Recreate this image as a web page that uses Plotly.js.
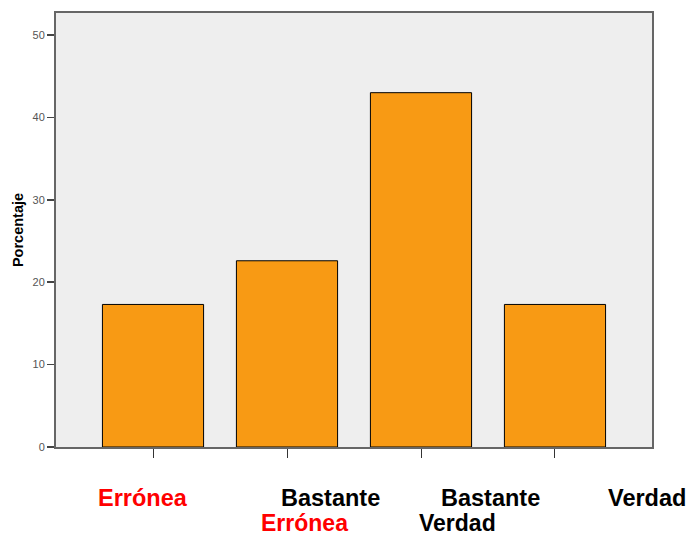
<!DOCTYPE html>
<html>
<head>
<meta charset="utf-8">
<script src="https://cdn.plot.ly/plotly-3.0.1.min.js"></script>
<style>
html,body{margin:0;padding:0;background:#fff;}
#chart{width:693px;height:537px;}
</style>
</head>
<body>
<div id="chart"></div>
<script>
// Data
var categories = ["Errónea", "Bastante Errónea", "Bastante Verdad", "Verdad"];
var percentages = [17.3, 22.6, 43.0, 17.3];
var yTicks = [0, 10, 20, 30, 40, 50];
var yAxisTitle = "Porcentaje";
// Label lines below the axis (first word, second word)
var labelLine1 = ["Errónea", "Bastante", "Bastante", "Verdad"];
var labelLine2 = ["", "Errónea", "Verdad", ""];
var labelColor1 = ["#ff0000", "#000000", "#000000", "#000000"];
var labelColor2 = ["", "#ff0000", "#000000", ""];

// Horizontal offsets (in category units) of the drawn labels
var line1Offset = [-0.078, 0.328, 0.515, 0.687];
var line2Offset = [0, 0.131, 0.274, 0];

var annotations = [];
var labelFont = "Liberation Sans, Arial, sans-serif";
for (var i = 0; i < categories.length; i++) {
  if (labelLine1[i]) {
    annotations.push({
      x: i + line1Offset[i], xref: "x", y: -0.118, yref: "paper",
      xanchor: "center", yanchor: "middle", showarrow: false, borderpad: 0,
      text: "<b>" + labelLine1[i] + "</b>",
      font: {family: labelFont, size: 23.5, color: labelColor1[i]}
    });
  }
  if (labelLine2[i]) {
    annotations.push({
      x: i + line2Offset[i], xref: "x", y: -0.174, yref: "paper",
      xanchor: "center", yanchor: "middle", showarrow: false, borderpad: 0,
      text: "<b>" + labelLine2[i] + "</b>",
      font: {family: labelFont, size: 23, color: labelColor2[i]}
    });
  }
}

var trace = {
  type: "bar",
  x: categories.map(function(c, i){ return i; }),
  y: percentages,
  width: 0.755,
  marker: {color: "#F89A14", line: {color: "#000000", width: 1}},
  hoverinfo: "skip"
};

var layout = {
  width: 693, height: 537,
  margin: {l: 56, r: 41, t: 13, b: 90, pad: 0},
  paper_bgcolor: "#ffffff",
  plot_bgcolor: "#EEEEEE",
  showlegend: false,
  bargap: 0,
  xaxis: {
    range: [-0.724, 3.724],
    tickmode: "array",
    tickvals: [0, 1, 2, 3],
    showticklabels: false,
    ticks: "outside", ticklen: 9, tickwidth: 1, tickcolor: "#333333",
    showgrid: false, zeroline: false,
    showline: true, linecolor: "#666666", linewidth: 2, mirror: true
  },
  yaxis: {
    range: [0, 52.67],
    tickmode: "array",
    tickvals: yTicks,
    ticktext: yTicks.map(String),
    ticks: "outside", ticklen: 7, tickwidth: 1.5, tickcolor: "#444444",
    tickfont: {family: "Liberation Sans, Arial, sans-serif", size: 11, color: "#555555"},
    showgrid: false, zeroline: false,
    showline: true, linecolor: "#666666", linewidth: 2, mirror: true,
    title: {text: "<b>" + yAxisTitle + "</b>", standoff: 5,
      font: {family: "Liberation Sans, Arial, sans-serif", size: 14.5, color: "#000000"}}
  },
  annotations: annotations
};

Plotly.newPlot("chart", [trace], layout, {displayModeBar: false, staticPlot: true});
</script>
</body>
</html>
